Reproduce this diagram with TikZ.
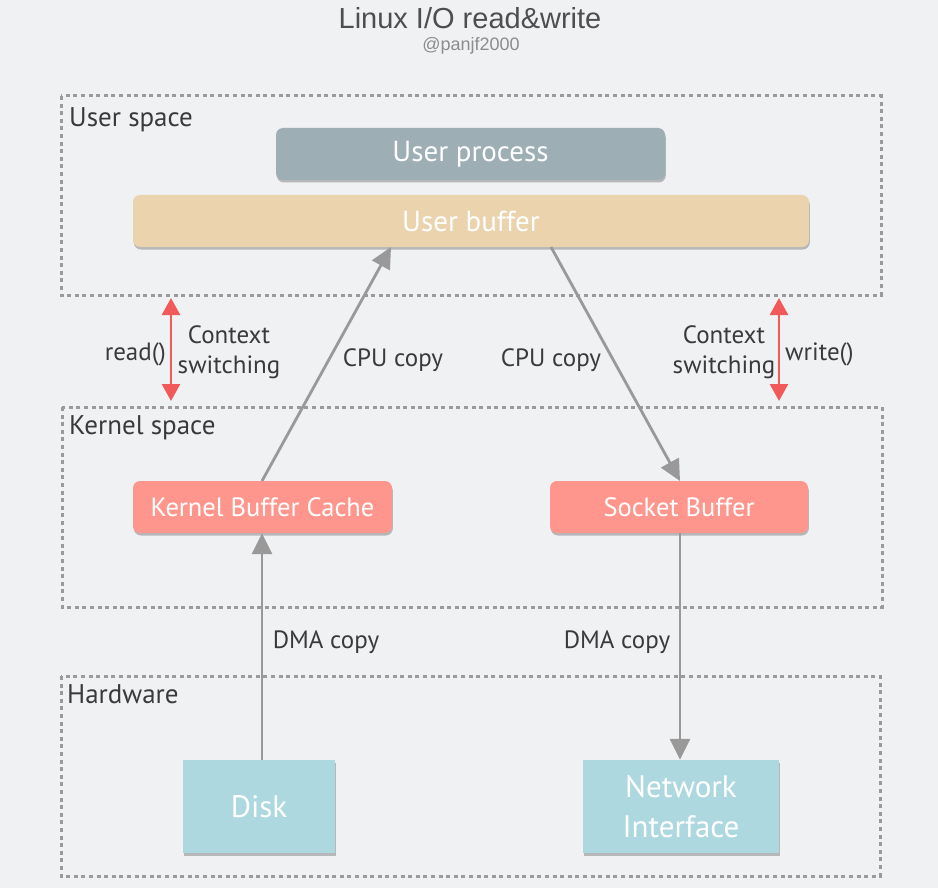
\documentclass[tikz,border=0pt]{standalone}
\usepackage{fontspec}
\setmainfont{PT Sans}
\newfontfamily\titlefont{Liberation Sans}
\usetikzlibrary{arrows.meta,shadows}
\definecolor{bg}{HTML}{F0F1F3}
\definecolor{frame}{HTML}{9A9A9A}
\definecolor{procc}{HTML}{9DAEB5}
\definecolor{ubufc}{HTML}{EAD3AD}
\definecolor{kbufc}{HTML}{FF968D}
\definecolor{hwc}{HTML}{AED8DF}
\definecolor{arrc}{HTML}{999999}
\definecolor{redc}{HTML}{F05A5A}
\definecolor{txtc}{HTML}{3A3A3A}
\tikzset{
  region/.style={draw=frame, line width=3pt, dash pattern=on 4pt off 3.6pt},
  regionlabel/.style={anchor=base west, inner sep=0pt, text=txtc, font=\fontsize{27}{30}\selectfont},
  boxbase/.style={rounded corners=7pt, draw=none, text=white, drop shadow={shadow xshift=0.8pt, shadow yshift=-2.5pt, opacity=0.35, fill=black!70}},
  hwbox/.style={draw=none, text=white, fill=hwc, drop shadow={shadow xshift=0.8pt, shadow yshift=-2.5pt, opacity=0.35, fill=black!70}},
  flow/.style={draw=arrc, line width=2.8pt, -{Triangle[length=21pt,width=20pt]}},
  ctx/.style={draw=redc, line width=2.6pt, {Triangle[length=17pt,width=18pt]}-{Triangle[length=17pt,width=18pt]}},
  lbl/.style={text=txtc, font=\fontsize{25}{30}\selectfont, inner sep=0pt, align=center},
}
\begin{document}
\begin{tikzpicture}[x=1pt,y=-1pt]
\fill[bg] (0,0) rectangle (938,888);
\useasboundingbox (0,0) rectangle (938,888);
% title
\node[text=txtc!90, font=\titlefont\fontsize{29}{32}\selectfont] (title) at (470,18) {Linux I/O read\&write};
\node[text=black!45, font=\titlefont\fontsize{18}{20}\selectfont] (sub) at (471,46) {@panjf2000};
% regions
\draw[region] (61,96) rectangle (881,295);
\node[regionlabel] (us) at (69,127) {User space};
\draw[region] (62,407) rectangle (882,607);
\node[regionlabel] (ks) at (69,434) {Kernel space};
\draw[region] (61,676) rectangle (880,876);
\node[regionlabel] (hw) at (67,703) {Hardware};
% boxes
\node[boxbase, fill=procc, minimum width=389pt, minimum height=52pt, font=\fontsize{29}{32}\selectfont] (proc) at (470.5,154) {User process};
\node[boxbase, fill=ubufc, minimum width=676pt, minimum height=52pt, font=\fontsize{29}{32}\selectfont] (ubuf) at (471,221) {User buffer};
\node[boxbase, fill=kbufc, minimum width=259pt, minimum height=52pt, font=\fontsize{26.5}{30}\selectfont] (kbc) at (262.5,507) {Kernel Buffer Cache};
\node[boxbase, fill=kbufc, minimum width=258pt, minimum height=52pt, font=\fontsize{26.5}{30}\selectfont] (sock) at (679,507) {Socket Buffer};
\node[hwbox, minimum width=152pt, minimum height=93pt, font=\fontsize{31}{34}\selectfont] (disk) at (259,806.5) {Disk};
\node[hwbox, minimum width=196pt, minimum height=93pt, align=center, font=\fontsize{31}{40}\selectfont] (nic) at (681,806.5) {Network\\Interface};
% connectors
\coordinate (kbtop) at (262,481);
\coordinate (ubl) at (391,247);
\coordinate (ubr) at (551,247);
\coordinate (sbtop) at (680,481);
\draw[flow] (kbtop) -- (ubl);
\draw[flow] (ubr) -- (sbtop);
\draw[flow] (disk.north -| kbtop) -- (kbc.south -| kbtop);
\draw[flow] (sock.south -| sbtop) -- (nic.north -| sbtop);
% context switching
\coordinate (r1) at (171,298);
\coordinate (r2) at (171,401);
\coordinate (w1) at (779,298);
\coordinate (w2) at (779,401);
\draw[ctx] (r1) -- (r2);
\draw[ctx] (w1) -- (w2);
% labels
\node[lbl, anchor=base east] (readl) at (166,360) {read()};
\node[lbl, anchor=base] (cs1) at (229,373) {Context\\switching};
\node[lbl, anchor=base] (cpu1) at (393,366) {CPU copy};
\node[lbl, anchor=base] (cpu2) at (551,366) {CPU copy};
\node[lbl, anchor=base] (cs2) at (724,373) {Context\\switching};
\node[lbl, anchor=base west] (writel) at (785,360) {write()};
\node[lbl, anchor=base] (dma1) at (326,648) {DMA copy};
\node[lbl, anchor=base] (dma2) at (617,648) {DMA copy};
\end{tikzpicture}
\end{document}
